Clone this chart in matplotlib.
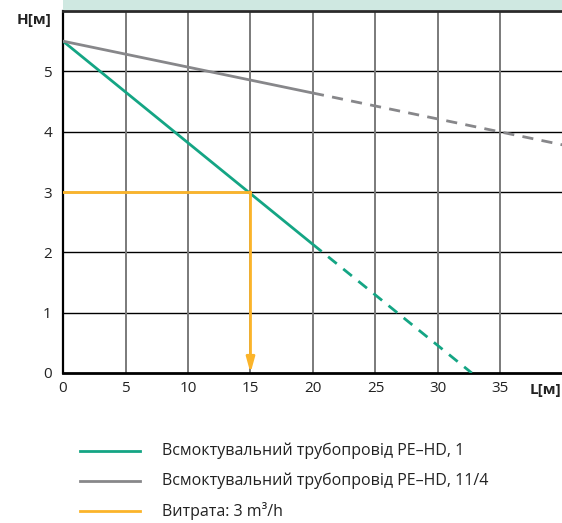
import matplotlib
matplotlib.use("Agg")
import matplotlib.pyplot as plt
from matplotlib.patches import Rectangle

# Data
x_ticks = [0, 5, 10, 15, 20, 25, 30, 35]
y_ticks = [0, 1, 2, 3, 4, 5]

green_solid_x = [0, 20]
green_solid_y = [5.5, 2.13]
green_dash_x = [20, 32.7]
green_dash_y = [2.13, 0]

gray_solid_x = [0, 20]
gray_solid_y = [5.5, 4.64]
gray_dash_x = [20, 40]
gray_dash_y = [4.64, 3.78]

flow_L = 15
flow_H = 3

labels = ["Всмоктувальний трубопровід PE–HD, 1",
          "Всмоктувальний трубопровід PE–HD, 11/4",
          "Витрата: 3 m³/h"]

GREEN = "#14a584"
GRAY = "#87878a"
ORANGE = "#fbb42a"
BAND = "#cfe8e1"

plt.rcParams['font.family'] = ['Open Sans', 'DejaVu Sans']

W, H = 562, 523
fig = plt.figure(figsize=(W / 100, H / 100), dpi=100)

ax_l, ax_r, ax_t, ax_b = 63, 562, 11, 373
ax = fig.add_axes([ax_l / W, 1 - ax_b / H, (ax_r - ax_l) / W, (ax_b - ax_t) / H])
ax.set_xlim(0, (ax_r - ax_l) / 12.5)
ax.set_ylim(0, 6)

# top band
fig.patches.append(Rectangle((ax_l / W, 1 - 10 / H), (W - ax_l) / W, 10 / H,
                             transform=fig.transFigure, facecolor=BAND,
                             edgecolor='none', zorder=0))

for y in y_ticks[1:]:
    ax.axhline(y, color='black', lw=1.0, zorder=1)
for x in x_ticks[1:]:
    ax.axvline(x, color='#7a7a7a', lw=1.4, zorder=1)

ax.plot(green_solid_x, green_solid_y, color=GREEN, lw=2, zorder=3, solid_capstyle='butt')
ax.plot(green_dash_x, green_dash_y, color=GREEN, lw=2, ls=(0, (4, 3)), zorder=3)
ax.plot(gray_solid_x, gray_solid_y, color=GRAY, lw=2, zorder=3)
ax.plot(gray_dash_x, gray_dash_y, color=GRAY, lw=2, ls=(0, (4, 3)), zorder=3)

ax.plot([0, flow_L], [flow_H, flow_H], color=ORANGE, lw=2, zorder=4)
ax.annotate("", xy=(flow_L, 0), xytext=(flow_L, flow_H),
            arrowprops=dict(arrowstyle="-|>,head_length=0.9,head_width=0.25",
                            color=ORANGE, lw=2, shrinkA=0, shrinkB=0), zorder=4)

ax.spines['right'].set_visible(False)
ax.spines['left'].set_linewidth(1.6)
ax.spines['bottom'].set_linewidth(2)
ax.spines['top'].set_linewidth(2)
ax.spines['top'].set_color('#2a2a2a')

ax.set_xticks(x_ticks)
ax.set_yticks(y_ticks)
ax.tick_params(length=0, labelsize=11, colors='#222222', pad=6)
ax.tick_params(axis='y', pad=8)

fig.text(52 / W, 1 - 20 / H, "H[м]", ha='right', va='center', fontsize=11,
         fontweight='bold', color='#222222')
fig.text(561 / W, 1 - 390 / H, "L[м]", ha='right', va='center', fontsize=11,
         fontweight='bold', color='#222222')

# legend
rows = [451, 481, 511]
colors = [GREEN, GRAY, ORANGE]
for r, c, lab in zip(rows, colors, labels):
    fig.add_artist(plt.Line2D([80 / W, 140 / W], [1 - r / H, 1 - r / H],
                              transform=fig.transFigure, color=c, lw=2))
    fig.text(162 / W, 1 - r / H, lab, ha='left', va='center', fontsize=11.5,
             color='#222222')

fig.savefig("out.png", dpi=100)
